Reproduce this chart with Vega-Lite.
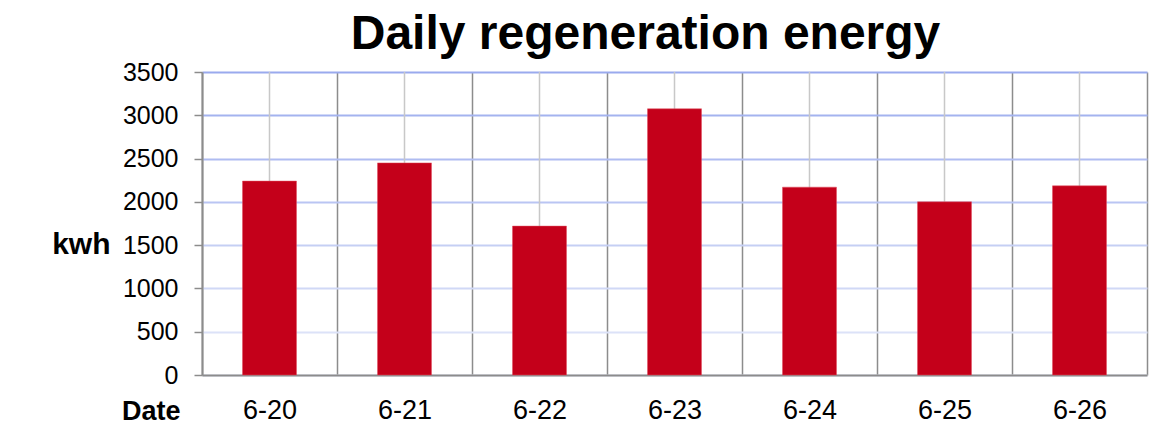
{
  "$schema": "https://vega.github.io/schema/vega-lite/v6.json",
  "autosize": {"type": "none"},
  "width": 945,
  "height": 303,
  "padding": {"left": 202, "top": 72, "right": 24, "bottom": 52},
  "background": "white",
  "config": {
    "view": {"stroke": null},
    "font": "Liberation Sans"
  },
  "title": {
    "text": "Daily regeneration energy",
    "font": "Liberation Sans",
    "fontSize": 48,
    "fontWeight": "bold",
    "color": "#000000",
    "anchor": "middle",
    "dx": -29,
    "offset": 1
  },
  "data": {
    "values": [
      {"date": "6-20", "kwh": 2240},
      {"date": "6-21", "kwh": 2450},
      {"date": "6-22", "kwh": 1720},
      {"date": "6-23", "kwh": 3075},
      {"date": "6-24", "kwh": 2170},
      {"date": "6-25", "kwh": 2000},
      {"date": "6-26", "kwh": 2185}
    ]
  },
  "encoding": {
    "x": {
      "field": "date",
      "type": "nominal",
      "sort": null,
      "scale": {"paddingInner": 0, "paddingOuter": 0},
      "axis": {
        "title": "Date",
        "titleFont": "Liberation Sans",
        "titleFontSize": 27,
        "titleFontWeight": "bold",
        "titleColor": "#000000",
        "titleAlign": "right",
        "titleBaseline": "middle",
        "titleAnchor": "start",
        "titleX": -22,
        "titleY": 36,
        "labelFont": "Liberation Sans",
        "labelFontSize": 27,
        "labelColor": "#000000",
        "labelAngle": 0,
        "labelPadding": 35,
        "labelBaseline": "middle",
        "tickBand": "extent",
        "ticks": false,
        "grid": true,
        "gridColor": "#8c8c8c",
        "gridWidth": 1.5,
        "domainColor": "#8c8c8c",
        "domainWidth": 2
      }
    }
  },
  "layer": [
    {
      "mark": {"type": "rule", "color": "#c8c8c8", "strokeWidth": 1.5},
      "encoding": {}
    },
    {
      "mark": {"type": "bar", "color": "#c4001a", "width": {"band": 0.4}, "stroke": "#e05060", "strokeWidth": 0.5},
      "encoding": {
        "y": {
          "field": "kwh",
          "type": "quantitative",
          "scale": {"domain": [0, 3500], "nice": false},
          "axis": {
            "values": [0, 500, 1000, 1500, 2000, 2500, 3000, 3500],
            "format": "d",
            "title": "kwh",
            "titleFont": "Liberation Sans",
            "titleFontSize": 30,
            "titleFontWeight": "bold",
            "titleColor": "#000000",
            "titleAngle": 0,
            "titleAlign": "right",
            "titleBaseline": "middle",
            "titleAnchor": "start",
            "titleX": -92,
            "titleY": 172,
            "labelFont": "Liberation Sans",
            "labelFontSize": 25,
            "labelColor": "#000000",
            "labelPadding": 16,
            "tickSize": 8,
            "tickColor": "#8c8c8c",
            "tickWidth": 1.5,
            "domainColor": "#8c8c8c",
            "domainWidth": 2,
            "grid": true,
            "gridWidth": 1.8,
            "gridColor": {
              "condition": [
                {"test": "datum.value >= 3500", "value": "#9aaaee"},
                {"test": "datum.value >= 3000", "value": "#a4b3ef"},
                {"test": "datum.value >= 2500", "value": "#afbcf1"},
                {"test": "datum.value >= 2000", "value": "#bac5f3"},
                {"test": "datum.value >= 1500", "value": "#c5cff4"},
                {"test": "datum.value >= 1000", "value": "#d0d8f6"},
                {"test": "datum.value >= 500", "value": "#dce2f8"}
              ],
              "value": "#e4e8f9"
            }
          }
        }
      }
    }
  ]
}
